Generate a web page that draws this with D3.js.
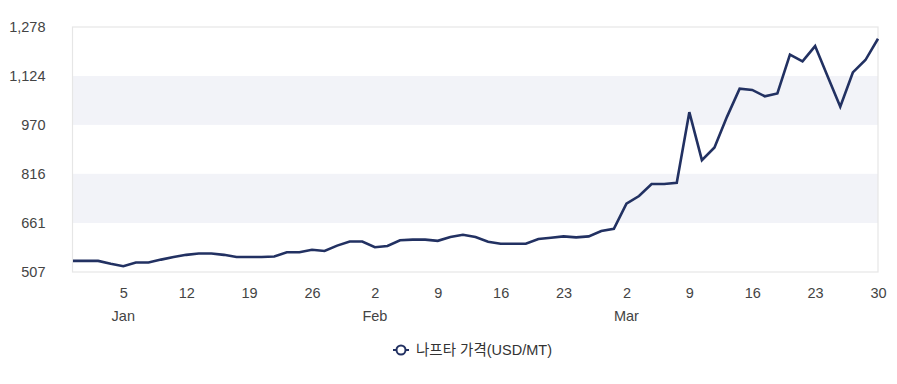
<!DOCTYPE html>
<html><head><meta charset="utf-8">
<script src="https://cdn.jsdelivr.net/npm/d3@7"></script>
<style>
html,body{margin:0;padding:0;background:#fff;}
text{font-family:"Liberation Sans",Arial,"Noto Sans CJK KR",sans-serif;}
</style></head>
<body><svg id="c" width="897" height="384"></svg>
<script>
const dates = [
 "2025-12-30","2025-12-31","2026-01-01","2026-01-02",
 "2026-01-05","2026-01-06","2026-01-07","2026-01-08","2026-01-09",
 "2026-01-12","2026-01-13","2026-01-14","2026-01-15","2026-01-16",
 "2026-01-19","2026-01-20","2026-01-21","2026-01-22","2026-01-23",
 "2026-01-26","2026-01-27","2026-01-28","2026-01-29","2026-01-30",
 "2026-02-02","2026-02-03","2026-02-04","2026-02-05","2026-02-06",
 "2026-02-09","2026-02-10","2026-02-11","2026-02-12","2026-02-13",
 "2026-02-16","2026-02-17","2026-02-18","2026-02-19","2026-02-20",
 "2026-02-23","2026-02-24","2026-02-25","2026-02-26","2026-02-27",
 "2026-03-02","2026-03-03","2026-03-04","2026-03-05","2026-03-06",
 "2026-03-09","2026-03-10","2026-03-11","2026-03-12","2026-03-13",
 "2026-03-16","2026-03-17","2026-03-18","2026-03-19","2026-03-20",
 "2026-03-23","2026-03-24","2026-03-25","2026-03-26","2026-03-27",
 "2026-03-30"
];
const naphtha = [
 542,542,542,533,
 525,537,537,546,554,
 561,565,565,561,554,
 554,554,556,569,569,
 577,573,590,603,603,
 585,589,607,609,609,
 605,617,624,617,602,
 596,596,596,611,615,
 619,616,619,636,643,
 722,746,784,784,788,
 1010,859,899,996,1084,
 1080,1060,1069,1191,1170,
 1218,1122,1027,1135,1174,
 1241
];
const yTicks = [507,661,816,970,1124,1278];
const tickDates = ["2026-01-05","2026-01-12","2026-01-19","2026-01-26","2026-02-02","2026-02-09","2026-02-16","2026-02-23","2026-03-02","2026-03-09","2026-03-16","2026-03-23","2026-03-30"];
const monthLabels = {"2026-01-05":"Jan","2026-02-02":"Feb","2026-03-02":"Mar"};
const seriesName = "나프타 가격(USD/MT)";

const svg = d3.select("#c");
const L = 72.5, R = 878, T = 27, B = 272;
const x = d3.scalePoint().domain(dates).range([L + 0.5, R]);
const y = d3.scaleLinear().domain([507, 1278]).range([B, T]);

// bands
const bands = [[970,1124],[661,816]];
svg.append("g").selectAll("rect").data(bands).join("rect")
  .attr("x", L).attr("width", R - L)
  .attr("y", d => y(d[1])).attr("height", d => y(d[0]) - y(d[1]))
  .attr("fill", "#f2f3f8");

// frame
svg.append("rect").attr("x", L).attr("y", T).attr("width", R - L).attr("height", B - T)
  .attr("fill", "none").attr("stroke", "#e6e6e6").attr("stroke-width", 1.2);

// y axis
const fmt = d3.format(",");
const yAxis = svg.append("g").attr("transform", `translate(${L},0)`)
  .call(d3.axisLeft(y).tickValues(yTicks).tickFormat(fmt).tickSize(0).tickPadding(27));
yAxis.select(".domain").remove();
yAxis.selectAll("text").attr("font-size", 14.5).attr("fill", "#444")
  .attr("font-family", "'Liberation Sans',Arial,sans-serif");

// x axis
const xAxis = svg.append("g").attr("transform", `translate(0,${B})`)
  .call(d3.axisBottom(x).tickValues(tickDates).tickFormat(d => String(+d.slice(8))).tickSize(0).tickPadding(16));
xAxis.select(".domain").remove();
xAxis.selectAll("text").attr("font-size", 14.5).attr("fill", "#444")
  .attr("font-family", "'Liberation Sans',Arial,sans-serif");
svg.append("g").selectAll("text").data(Object.keys(monthLabels)).join("text")
  .attr("x", d => x(d)).attr("y", 321).attr("text-anchor", "middle")
  .attr("font-size", 14.5).attr("fill", "#444").text(d => monthLabels[d]);

// line
const line = d3.line().x((d, i) => x(dates[i])).y(d => y(d));
svg.append("path").datum(naphtha).attr("d", line)
  .attr("fill", "none").attr("stroke", "#223162").attr("stroke-width", 2.6)
  .attr("stroke-linejoin", "miter");

// legend
const lg = svg.append("g").attr("transform", "translate(0,350)");
lg.append("line").attr("x1", 393).attr("x2", 409).attr("y1", 0).attr("y2", 0)
  .attr("stroke", "#223162").attr("stroke-width", 2);
lg.append("circle").attr("cx", 401).attr("cy", 0).attr("r", 4.5)
  .attr("fill", "#fff").attr("stroke", "#223162").attr("stroke-width", 2);
lg.append("text").attr("x", 416).attr("y", 5).attr("font-size", 14.5).attr("fill", "#333")
  .attr("font-family", "'Liberation Sans',Arial,'Noto Sans CJK KR',sans-serif")
  .text(seriesName);
</script></body></html>
